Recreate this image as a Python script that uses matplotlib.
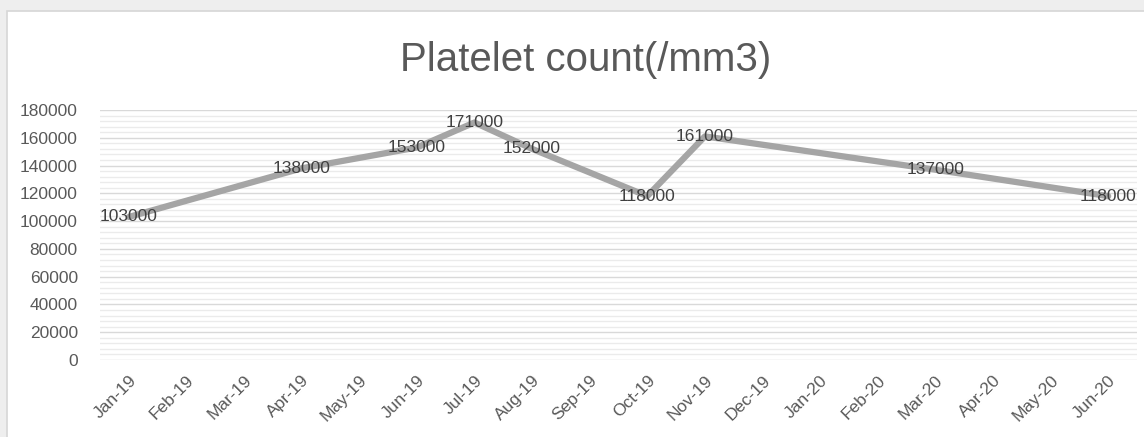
"""
Platelet count line chart (Excel style)
"""

from matplotlib import pyplot as plt
from matplotlib.patches import Rectangle
from matplotlib.ticker import MultipleLocator
import numpy as np

months = ["Jan-19", "Feb-19", "Mar-19", "Apr-19", "May-19", "Jun-19",
          "Jul-19", "Aug-19", "Sep-19", "Oct-19", "Nov-19", "Dec-19",
          "Jan-20", "Feb-20", "Mar-20", "Apr-20", "May-20", "Jun-20"]
measured_months = ["Jan-19", "Apr-19", "Jun-19", "Jul-19", "Aug-19",
                   "Oct-19", "Nov-19", "Mar-20", "Jun-20"]
platelets = [103000, 138000, 153000, 171000, 152000,
             118000, 161000, 137000, 118000]

plt.rcParams['font.family'] = ['Liberation Sans', 'DejaVu Sans']
text_color = "#595959"

fig = plt.figure(figsize=(11.44, 4.37), dpi=100, facecolor="#eeeeee")
fig.patches.append(Rectangle((7 / 1144, -0.01), 1.0, 1 - 11 / 437 + 0.01,
                             transform=fig.transFigure, facecolor="white",
                             edgecolor="#d6d6d6", linewidth=1.2, zorder=-5))

ax = fig.add_axes([100 / 1144, 1 - 360 / 437, 1037 / 1144, 250 / 437])
ax.set_facecolor("none")
ax.set_zorder(2)

x = np.array([months.index(m) for m in measured_months])
y = np.array(platelets)
ax.plot(x, y, color="#a5a5a5", linewidth=4.5, solid_capstyle="round", zorder=3)
for xi, yi in zip(x, y):
    ax.text(xi, yi, str(yi), ha="center", va="center", fontsize=12.5,
            color="#404040", zorder=4)

ax.set_xlim(-0.5, len(months) - 0.5)
ax.set_ylim(0, 180000)
ax.yaxis.set_major_locator(MultipleLocator(20000))
ax.yaxis.set_minor_locator(MultipleLocator(4000))
ax.grid(True, which="major", axis="y", color="#d9d9d9", linewidth=1.0)
ax.grid(True, which="minor", axis="y", color="#ebebeb", linewidth=1.0)
ax.set_axisbelow(True)

ax.set_xticks(range(len(months)))
ax.set_xticklabels(months, rotation=45, ha="right", rotation_mode="anchor",
                   fontsize=12.5, color=text_color)
ax.tick_params(axis="x", length=0, pad=9)
ax.tick_params(axis="y", which="both", length=0, pad=16, labelsize=12.5,
               labelcolor=text_color)
for s in ax.spines.values():
    s.set_visible(False)

fig.text(0.512, 1 - 60 / 437, "Platelet count(/mm3)", ha="center", va="center",
         fontsize=29, color=text_color, zorder=3)

fig.savefig("out.png", dpi=100, facecolor=fig.get_facecolor())
